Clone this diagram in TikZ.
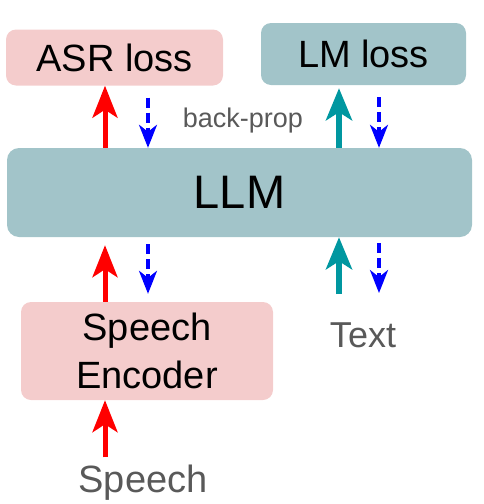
\documentclass[tikz,border=0pt]{standalone}
\usepackage{fontspec}
\setmainfont{Liberation Sans}
\usetikzlibrary{arrows.meta,positioning,calc}

\definecolor{asrpink}{HTML}{F4CCCC}
\definecolor{llmteal}{HTML}{A2C4C9}
\definecolor{arrowteal}{HTML}{0097A0}
\definecolor{labelgray}{HTML}{595959}

\begin{document}
\begin{tikzpicture}[x=1pt, y=-1pt, every node/.style={align=center, inner sep=0pt},
    box/.style={rounded corners=10pt, font=\fontsize{38}{48}\selectfont},
    fwdred/.style={-{Stealth[length=32pt, width=25pt, inset=8pt]}, line width=5pt, red},
    fwdteal/.style={-{Stealth[length=32pt, width=26pt, inset=8pt]}, line width=6pt, arrowteal},
    backblue/.style={-{Stealth[length=23pt, width=18pt, inset=7pt]}, line width=3.3pt, blue, dash pattern=on 10pt off 5pt}]
  \useasboundingbox (0,0) rectangle (484,504);

  \node[box, fill=asrpink, minimum width=217pt, minimum height=56pt] (asr) at (114.5, 57.5) {ASR loss};
  \node[box, fill=llmteal, minimum width=205pt, minimum height=62pt] (lm) at (363.5, 54) {LM loss};
  \node[box, fill=llmteal, minimum width=465pt, minimum height=89pt, rounded corners=12pt,
        font=\fontsize{47}{56}\selectfont] (llm) at (239.5, 192.5) {LLM};
  \node[box, fill=asrpink, minimum width=252pt, minimum height=98pt] (enc) at (147, 351) {Speech\\Encoder};

  \node[anchor=base, text=labelgray, font=\fontsize{36}{44}\selectfont] (text) at (363, 347) {Text};
  \node[anchor=base, text=labelgray, font=\fontsize{38}{46}\selectfont] (speech) at (143, 492) {Speech};
  \node[text=labelgray, font=\fontsize{27}{32}\selectfont] (bp) at (243, 121) {back-prop};

  % columns of the arrows
  \coordinate (redcol) at (105, 0);
  \coordinate (bluecol) at (148, 0);
  \coordinate (tealcol) at (339, 0);
  \coordinate (bluecolr) at (379, 0);

  % forward pass
  \draw[fwdred] (llm.north -| redcol) -- (asr.south -| redcol);
  \draw[fwdteal, shorten >=3pt] (llm.north -| tealcol) -- (lm.south -| tealcol);
  \draw[fwdred, shorten >=8pt] (enc.north -| redcol) -- (llm.south -| redcol);
  \draw[fwdteal, shorten <=28pt] (text.north -| tealcol) -- (llm.south -| tealcol);
  \draw[fwdred, shorten <=7pt] (speech.north -| redcol) -- (enc.south -| redcol);

  % backward pass
  \draw[backblue, shorten <=12pt] (asr.south -| bluecol) -- (llm.north -| bluecol);
  \draw[backblue, shorten <=12pt] (lm.south -| bluecolr) -- (llm.north -| bluecolr);
  \draw[backblue, shorten <=7pt, shorten >=8pt] (llm.south -| bluecol) -- (enc.north -| bluecol);
  \draw[backblue, shorten <=6pt, shorten >=29pt] (llm.south -| bluecolr) -- (text.north -| bluecolr);
\end{tikzpicture}
\end{document}
